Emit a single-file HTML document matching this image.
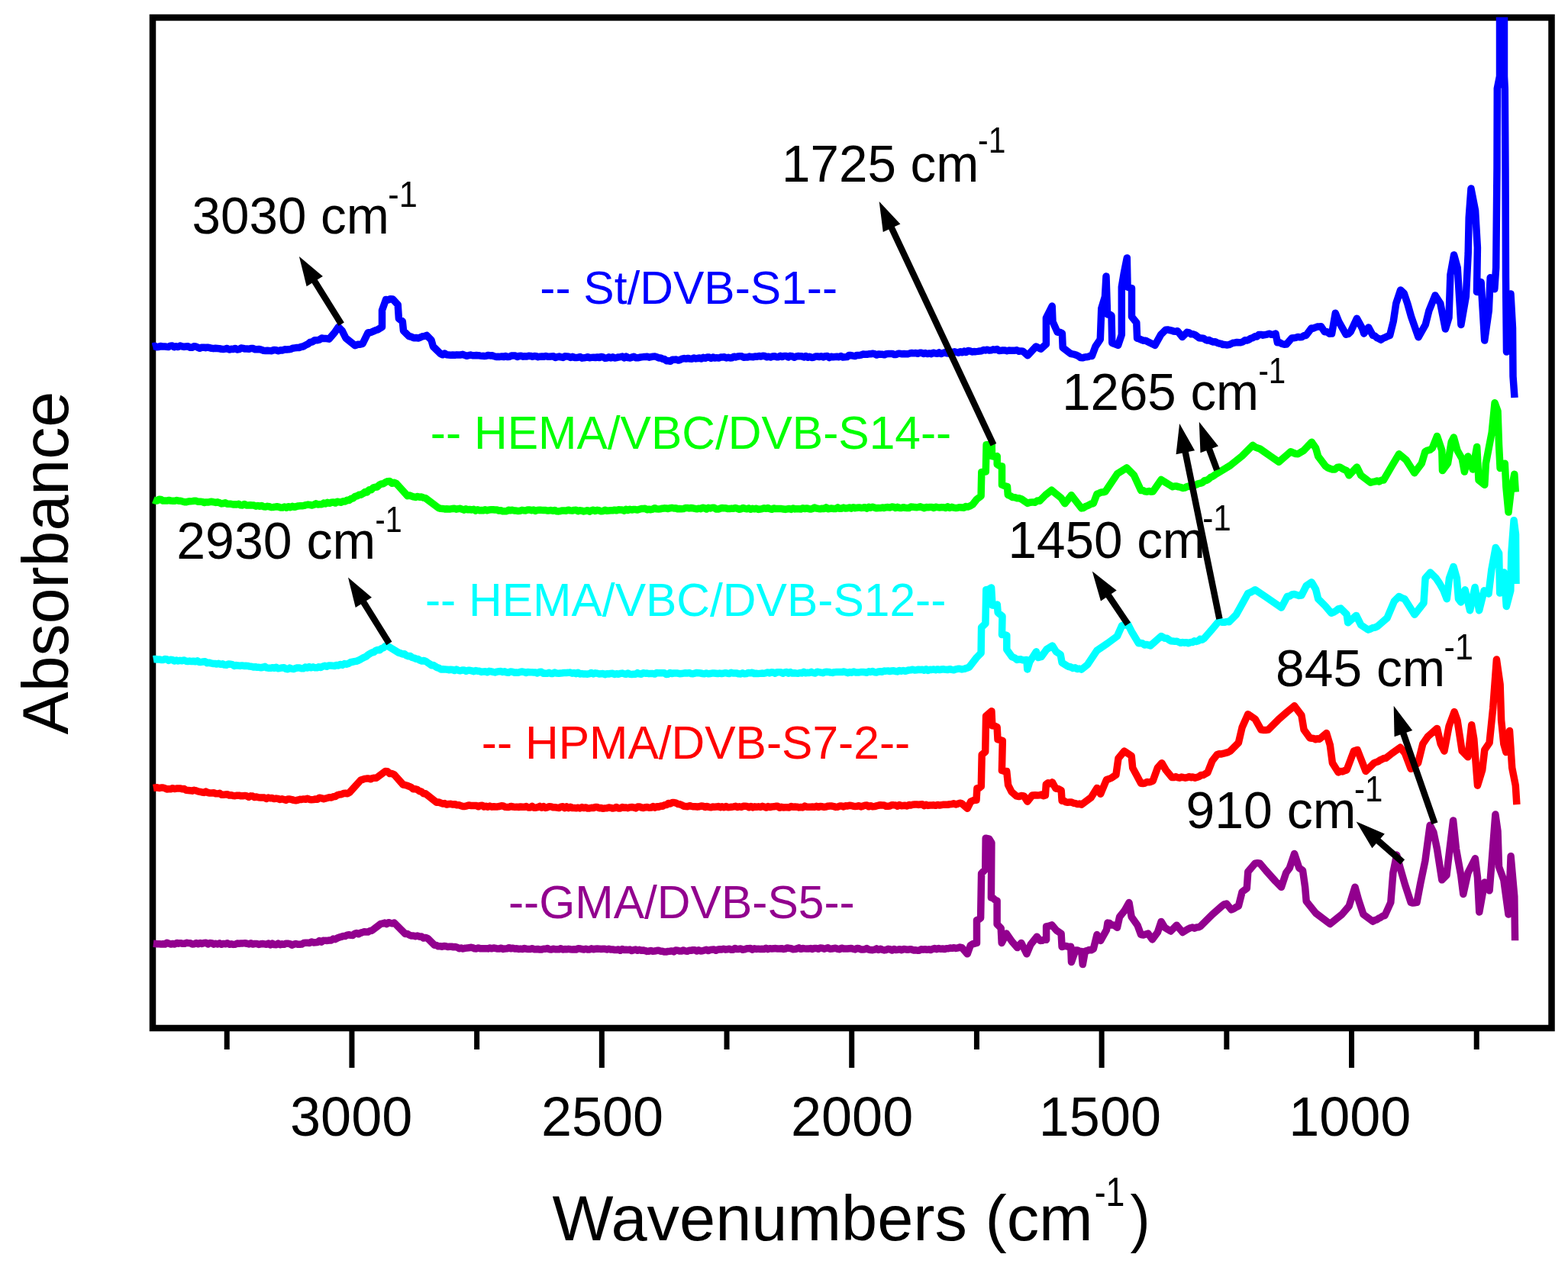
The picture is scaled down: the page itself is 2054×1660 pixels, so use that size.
<!DOCTYPE html>
<html><head><meta charset="utf-8"><title>FTIR spectra</title>
<style>html,body{margin:0;padding:0;background:#fff;}svg{display:block;}</style>
</head><body>
<svg width="2054" height="1660" viewBox="0 0 2054 1660">
<defs><clipPath id="pc"><rect x="199" y="22.5" width="1840" height="1330"/></clipPath></defs>
<rect width="100%" height="100%" fill="#fff"/>
<rect x="200" y="23" width="1832.5" height="1324" fill="none" stroke="#000" stroke-width="8.5"/>
<path d="M1934.23 1347V1375 M1770.53 1347V1399 M1606.83 1347V1375 M1443.13 1347V1399 M1279.43 1347V1375 M1115.73 1347V1399 M952.03 1347V1375 M788.33 1347V1399 M624.63 1347V1375 M460.93 1347V1399 M297.23 1347V1375" stroke="#000" stroke-width="7" fill="none"/>
<g clip-path="url(#pc)" fill="none" stroke-width="9.5" stroke-linejoin="round" stroke-linecap="butt">
<path d="M199.9 454 202.48 453.27 205.05 454.69 207.63 454.53 210.21 453.51 212.78 453.99 215.36 453.9 217.94 454.3 220.51 454.58 223.09 453.19 225.66 453.06 228.24 454.67 230.82 453.87 233.39 454.52 235.97 453 238.55 453.89 241.12 454.44 243.7 454 246.26 453.65 248.83 455.27 251.39 455.37 253.95 453.82 256.52 454 259.08 455.22 261.64 456.2 264.21 455.28 266.77 455.14 269.33 455.74 271.89 455.14 274.46 455.72 277.02 456.34 279.58 456.64 282.15 456.31 284.71 456.49 287.27 456.66 289.84 457.33 292.4 457.6 295.01 457.09 297.61 456.47 300.22 458.02 302.83 457.37 305.44 457.46 308.04 456.46 310.65 457.99 313.26 457.63 315.86 456.07 318.47 456.41 321.08 457.1 323.69 456.99 326.29 457.36 328.9 456.4 331.6 456.6 334.3 457.77 337 457.81 339.7 457.43 342.4 458.35 345.1 459.3 347.8 459.58 350.5 459.26 353.2 459.6 356.05 459.66 358.9 458.44 361.75 458.74 364.6 459.73 367.45 458.85 370.3 458.9 372.97 457.76 375.64 458.02 378.31 457.84 380.98 457.29 383.65 456.2 386.32 455.84 388.99 455.49 391.66 455.54 394.33 454.53 397 454 400.05 452.26 403.1 450.93 406.15 448.48 409.2 447.9 412.25 445.76 415.3 445.86 418.35 445.19 421.4 443 424.63 443.59 427.87 443.59 431.1 444.2 438.4 435.7 443.3 428.4 448.2 433.3 453 443 465.2 452.8 468.47 451.31 471.73 451.14 475 450.3 482.2 435.7 485.25 435.76 488.3 434.44 491.35 433.08 494.4 432.1 500.5 428.4 500.5 406.5 505.5 392.5 508.5 393.05 511.5 391.63 514.5 392 521.2 399.2 522.4 417.5 527.3 421.1 528.5 433.3 535.8 440.6 538.85 441.23 541.9 442.7 544.95 442.56 548 443 550.73 442.02 553.45 440.74 556.17 440.4 558.9 439.4 565 445.5 567.4 454 577.2 463.7 579.83 464.76 582.47 462.99 585.1 464.69 587.73 464.91 590.37 465.18 593 465.03 595.63 465.31 598.27 464.87 600.9 465.1 603.53 464.97 606.17 464.37 608.8 465.4 611.36 466.22 613.93 465.7 616.49 465.04 619.05 465.73 621.62 465.76 624.18 465.59 626.74 465.64 629.31 466.11 631.87 466.36 634.43 466.41 636.99 466.18 639.56 465.4 642.12 465.89 644.68 465.86 647.25 466.75 649.81 467.39 652.37 467.34 654.94 467.42 657.5 466.9 660 467.54 662.5 466.43 665 467.61 667.5 467.28 670 466.1 672.5 465.98 675 465.98 677.5 467.47 680 466.47 682.5 466.2 685 467.23 687.5 466.68 690 467 692.5 466.18 695 466.4 697.5 467.18 700 466.5 702.5 466.75 705 467.67 707.5 467.2 710 466.97 712.5 467.32 715 466.46 717.5 467.23 720 467.34 722.5 466.91 725 466.79 727.5 468.42 730 467.68 732.5 467.12 735 467.95 737.5 468.42 740 466.87 742.5 466.9 745 467.2 747.5 468.38 750 467.31 752.5 468.44 755 468.43 757.5 468.2 760 467.59 762.5 469.15 765 468.83 767.5 468.31 770 467.76 772.5 468.66 775 468.4 777.51 468.17 780.02 468.51 782.54 467.98 785.05 468.58 787.56 467.41 790.07 467.87 792.58 469.19 795.09 468.99 797.61 467.83 800.12 468.91 802.63 467.79 805.14 469.03 807.65 468.62 810.16 467.94 812.68 467.6 815.19 467.09 817.7 468.81 820.21 467.11 822.72 468.65 825.24 468.91 827.75 468.11 830.26 467.29 832.77 468.66 835.28 468.85 837.79 468.29 840.31 467.88 842.82 467.6 845.33 467.52 847.84 467.21 850.35 468.13 852.86 467.63 855.38 467.13 857.89 466.93 860.4 467.7 862.95 468.88 865.5 468.99 868.05 470.25 870.6 470.75 873.15 472.69 875.7 472.8 878.26 473.26 880.82 471.16 883.38 471.18 885.94 471.1 888.5 472.07 891.06 471.33 893.62 470.1 896.18 469.51 898.74 470.09 901.3 469.4 903.81 470.01 906.32 470.14 908.83 468.9 911.34 469.91 913.85 469.46 916.36 468.99 918.87 469.93 921.38 468.36 923.89 469.28 926.41 467.94 928.92 468.04 931.43 469.46 933.94 468 936.45 469.03 938.96 468.65 941.47 469.07 943.98 468.06 946.49 467.94 949 467.78 951.51 468.87 954.02 468.28 956.53 468.92 959.04 468.72 961.55 467.15 964.06 467.92 966.57 466.97 969.08 466.77 971.59 466.78 974.11 468.3 976.62 468.08 979.13 468.1 981.64 467.06 984.15 467.55 986.66 467.82 989.17 466.95 991.68 467.27 994.19 466.51 996.7 467 999.26 466.18 1001.82 466.57 1004.37 467.83 1006.93 467.2 1009.49 467.94 1012.05 467.02 1014.6 466.68 1017.16 467.71 1019.72 467.81 1022.28 466.2 1024.83 467.53 1027.39 466.39 1029.95 466.46 1032.51 468.02 1035.06 466.34 1037.62 466.76 1040.18 468.27 1042.74 467.16 1045.29 466.56 1047.85 466.68 1050.41 466.85 1052.96 467.87 1055.52 466.61 1058.08 468.24 1060.64 467.19 1063.19 468.4 1065.75 468.29 1068.31 467.08 1070.87 467.01 1073.42 467.48 1075.98 466.74 1078.54 467.86 1081.1 466.66 1083.65 466.62 1086.21 468.58 1088.77 467.22 1091.33 467.84 1093.88 467.56 1096.44 467.31 1099 467.7 1101.62 466.56 1104.23 468 1106.85 467.86 1109.46 467.59 1112.08 465.62 1114.69 465.56 1117.31 466.1 1119.92 466.57 1122.54 465.43 1125.15 465.46 1127.77 465.15 1130.38 464.08 1133 464.3 1135.56 464.35 1138.12 463.84 1140.68 463.69 1143.24 463.32 1145.8 463.69 1148.36 465.06 1150.92 463.95 1153.48 464.32 1156.04 464.27 1158.6 464.83 1161.16 463.7 1163.72 463.49 1166.28 463.5 1168.84 463.44 1171.4 464.47 1173.96 464.53 1176.52 463.31 1179.08 463.34 1181.64 463.72 1184.2 463.6 1186.76 463.71 1189.31 463.69 1191.87 462.94 1194.42 462.44 1196.97 462.84 1199.53 462.44 1202.09 463.35 1204.64 462.34 1207.19 462.3 1209.75 463.37 1212.31 462.63 1214.86 463.58 1217.41 462.94 1219.97 463.63 1222.53 462.16 1225.08 462.8 1227.63 463.34 1230.19 461.85 1232.74 463.55 1235.3 462.6 1237.83 461.78 1240.35 462.83 1242.88 463.08 1245.4 462.59 1247.93 461.42 1250.46 460.84 1252.98 461.49 1255.51 462.14 1258.03 460.72 1260.56 461.76 1263.09 460.09 1265.61 461.47 1268.14 459.55 1270.66 459.95 1273.19 460.96 1275.71 460.6 1278.24 460.64 1280.77 460.35 1283.29 460 1285.82 459.72 1288.34 458.53 1290.87 458.88 1293.4 458.17 1295.92 459.12 1298.45 458.86 1300.97 457.87 1303.5 458.2 1306.11 457.47 1308.71 459.41 1311.32 459.25 1313.93 458.87 1316.54 459 1319.14 459.76 1321.75 459.11 1324.36 459.13 1326.96 459.16 1329.57 459.14 1332.18 458.82 1334.79 460.21 1337.39 459.89 1340 460.2 1346.2 465.7 1357.1 454 1360.25 455.69 1363.4 457.1 1370.4 450.9 1370.4 416.6 1378.2 401 1379 421.3 1385.2 435.3 1388.3 435.17 1391.4 436.8 1392.2 455.5 1402.3 463.3 1404.9 463.93 1407.5 464.41 1410.1 465.3 1412.7 466.48 1415.3 468.54 1417.9 468.8 1420.4 468.12 1422.9 467.64 1425.4 467.58 1427.9 466.35 1430.4 466.4 1435 454 1441.3 444.6 1442.8 404.1 1447.5 388.5 1449 362.1 1450.6 411.9 1453.3 411.71 1456 413.5 1456.8 449.3 1459.4 450.39 1462 451.37 1464.6 452.4 1469.3 438.4 1469.3 376.1 1472.4 357.4 1476.3 337.9 1477.1 376.1 1479.8 377.15 1482.5 377.6 1482.5 415 1488.8 422.8 1489.6 443.1 1492.4 443.9 1495.2 445.31 1498 446.32 1500.8 446.26 1503.6 447.7 1506.7 449.26 1509.8 450.79 1512.9 452.4 1520.7 438.4 1527 432.2 1529.58 431.9 1532.17 432.52 1534.75 433.07 1537.33 434.01 1539.92 434.29 1542.5 433.7 1548.8 441.5 1555 435.3 1557.67 435.96 1560.34 437.82 1563.01 437.74 1565.69 438.9 1568.36 440.89 1571.03 442.74 1573.7 443.1 1576.29 443.13 1578.88 445.05 1581.47 445.99 1584.07 445.56 1586.66 447.03 1589.25 448.05 1591.84 447.8 1594.43 449.17 1597.03 449.95 1599.62 450.37 1602.21 451.6 1604.8 451.6 1607.4 451.96 1610 451.65 1612.6 450.44 1615.2 449.22 1617.8 448.93 1620.4 448.44 1623 448.71 1625.6 448.65 1628.2 447.7 1630.8 445.77 1633.4 446 1636 445.03 1638.6 443.26 1641.2 442.56 1643.8 440.83 1646.4 440.93 1649 438.51 1651.6 438.4 1654.37 439.18 1657.14 438.64 1659.91 438.1 1662.69 437.19 1665.46 438.3 1668.23 438.2 1671 437.1 1673.4 448.8 1676.33 448.65 1679.25 450.5 1682.17 451.21 1685.1 451.1 1692.1 443 1694.77 442.82 1697.44 442.4 1700.11 441.39 1702.79 441.85 1705.46 441.44 1708.13 439.76 1710.8 439.5 1717.8 430.1 1720.36 430.25 1722.92 429.05 1725.48 428.05 1728.04 427.91 1730.6 427.8 1735.3 434.8 1738.4 434.82 1741.5 437.15 1744.6 437.1 1749.3 410.2 1754 421.9 1763.3 438.3 1766.25 437.47 1769.2 434.8 1777.4 417.3 1784.4 430.1 1786.7 437.1 1792.6 428.9 1798.4 439.5 1801.03 440.19 1803.65 442.6 1806.28 443.67 1808.9 445.3 1811.83 443.09 1814.75 441.99 1817.67 440.45 1820.6 439.5 1825.3 420.8 1828.8 397.4 1834.6 379.9 1839.3 384.5 1844 398.6 1848.6 414.9 1858 441.8 1867.3 425.4 1872 406.7 1880 387 1886.8 397.5 1893.4 431.1 1898 416.2 1899.9 360.1 1904.6 334 1909.2 350.8 1913.9 425.5 1920.4 388.1 1923.2 332.1 1924.2 285.4 1927 247.1 1932.6 276 1935.4 324.6 1934.5 382.5 1940.1 369.5 1944.7 446 1950.3 406.8 1952.2 363.8 1957.8 378.8 1959.7 350.8 1961 220 1961.3 116 1964.5 100 1964.5 10 1967.5 10.5 1970.5 10 1970.5 100 1971.3 116 1972 220 1972.5 364 1973.5 461 1976 420 1979 385 1981.5 430 1982 493 1984 521" stroke="#0000ff"/>
<path d="M200.8 654.9 203.36 655.92 205.91 656.01 208.47 654.34 211.03 654.51 213.58 656.12 216.14 656.03 218.69 656.01 221.25 655.39 223.81 656.1 226.36 656.21 228.92 656.27 231.48 655.53 234.03 656.18 236.59 656.22 239.14 656.99 241.7 657.64 244.26 657.66 246.81 656.96 249.37 656.87 251.93 656.62 254.48 656.27 257.04 656.36 259.59 657.35 262.15 657.16 264.71 657.39 267.26 658.53 269.82 657.9 272.38 658.08 274.93 657.54 277.49 657.23 280.04 657.94 282.6 658.4 285.11 657.86 287.61 658.79 290.12 659.95 292.62 659.49 295.13 658.69 297.63 660.3 300.14 660.29 302.65 660.35 305.15 660.88 307.66 660.78 310.16 661.02 312.67 660.34 315.17 661.78 317.68 661.92 320.19 660.51 322.69 661.88 325.2 661.99 327.7 661.67 330.21 661.99 332.71 662.09 335.22 663.15 337.73 662.49 340.23 663.33 342.74 662.56 345.24 663.81 347.75 664.03 350.25 663.34 352.76 663.74 355.27 664.63 357.77 664.42 360.28 664.13 362.78 663.79 365.29 664.18 367.79 665.11 370.3 664.9 372.86 663.99 375.41 665.22 377.97 663.7 380.53 664.74 383.08 663.28 385.64 664.33 388.19 663.58 390.75 662.93 393.31 662.71 395.86 662.73 398.42 662.36 400.98 661.56 403.53 661.11 406.09 661.47 408.64 662.07 411.2 661.2 413.76 659.85 416.31 661.1 418.87 660.66 421.43 660.78 423.98 659.1 426.54 659.96 429.09 658.34 431.65 659.28 434.21 658.27 436.76 657.93 439.32 658.99 441.88 657.2 444.43 657.79 446.99 658.2 449.54 656.74 452.1 657 454.7 655.28 457.3 655.47 459.9 653.41 462.5 652.86 465.1 650.34 467.7 649.86 470.3 648.33 472.9 648.19 475.5 646.7 478.18 644.53 480.85 644.94 483.52 641.75 486.2 641.83 488.88 639.08 491.55 638.21 494.23 637.99 496.9 635.35 499.58 634.07 502.25 633.75 504.93 631.8 507.6 630.7 510.52 630.51 513.45 633.13 516.38 632.18 519.3 633.6 533.9 649.7 536.5 649.09 539.1 650.03 541.7 650.9 544.3 651.47 546.9 650.54 549.5 651.31 552.1 651.02 554.7 652.18 557.3 652.6 574.8 665.7 577.34 666.36 579.88 666.44 582.42 666.9 584.96 666.73 587.5 667.08 590.03 666.89 592.57 666.56 595.11 666.19 597.65 667.2 600.19 666.64 602.73 666.34 605.27 667.16 607.81 668.15 610.35 666.78 612.89 667.83 615.43 667.57 617.97 667.95 620.5 667.34 623.04 669.1 625.58 667.83 628.12 668.65 630.66 668.41 633.2 668.7 635.73 667.74 638.26 668.83 640.78 668 643.31 667.84 645.84 667.81 648.37 668.07 650.9 667.95 653.43 669.03 655.95 668.79 658.48 669.75 661.01 669.65 663.54 669.78 666.07 668.27 668.59 668.7 671.12 668.32 673.65 669.01 676.18 669.08 678.71 669.44 681.23 669.27 683.76 668.37 686.29 668.71 688.82 668.92 691.35 667.89 693.88 667.96 696.4 668.71 698.93 668.13 701.46 669.36 703.99 668.4 706.52 668.13 709.04 668.3 711.57 668.41 714.1 668.38 716.63 669 719.16 668.89 721.68 668.59 724.21 669.26 726.74 668.41 729.27 669.81 731.8 669.93 734.33 669.47 736.85 668.89 739.38 669.05 741.91 669.2 744.44 668.15 746.97 668.89 749.49 669.11 752.02 668.43 754.55 668.26 757.08 669.69 759.61 668.82 762.13 669.14 764.66 669.95 767.19 669.34 769.72 668.7 772.25 670.1 774.77 668.88 777.3 668.18 779.83 669.52 782.36 668.36 784.89 668.78 787.42 669.86 789.94 669.53 792.47 668.22 795 669.2 797.5 669 800.01 668.82 802.51 668.86 805.01 668.2 807.52 668.86 810.02 667.73 812.52 668.05 815.02 668.12 817.53 669.14 820.03 667.32 822.53 668.58 825.04 667.35 827.54 668 830.04 667.54 832.55 667.58 835.05 668.06 837.55 667.24 840.05 666.59 842.56 666.49 845.06 666.3 847.56 667.74 850.07 667.22 852.57 667.75 855.07 667.11 857.58 665.67 860.08 666.84 862.58 666.97 865.08 666.76 867.59 666.21 870.09 665.82 872.59 665.92 875.1 666.5 877.6 665.8 880.12 665.35 882.64 665.88 885.16 665.8 887.68 666.76 890.19 666.48 892.71 666.75 895.23 666.57 897.75 665.5 900.27 665.39 902.79 665.92 905.31 665.47 907.83 665.82 910.35 666.34 912.87 666.83 915.38 666.18 917.9 666.66 920.42 665.23 922.94 665.76 925.46 667.06 927.98 665.37 930.5 665.92 933.02 665.24 935.54 665.29 938.06 666.92 940.57 667.12 943.09 666.45 945.61 665.43 948.13 665.78 950.65 665.66 953.17 666.56 955.69 666.59 958.21 666.12 960.73 666.3 963.24 665.49 965.76 666.36 968.28 667.2 970.8 666.82 973.32 665.52 975.84 666.37 978.36 666.78 980.88 665.88 983.4 667.17 985.92 666.31 988.43 666.81 990.95 666.23 993.47 667.42 995.99 667.01 998.51 666.61 1001.03 665.77 1003.55 666.37 1006.07 665.56 1008.59 666.71 1011.11 667.29 1013.62 665.91 1016.14 666.58 1018.66 666.54 1021.18 666.4 1023.7 666.6 1026.24 666.99 1028.78 667.41 1031.32 666.92 1033.87 666.42 1036.41 667.37 1038.95 666.08 1041.49 666.88 1044.03 666.67 1046.57 666.85 1049.11 667 1051.65 665.72 1054.2 666.48 1056.74 666.01 1059.28 666.51 1061.82 667.1 1064.36 666.38 1066.9 665.11 1069.44 665.98 1071.98 666.44 1074.53 666.76 1077.07 666.26 1079.61 666.56 1082.15 664.93 1084.69 666.76 1087.23 666.3 1089.77 666.02 1092.32 666.59 1094.86 666.52 1097.4 664.92 1099.94 666.32 1102.48 666.19 1105.02 665.03 1107.56 666.08 1110.1 665.74 1112.65 664.92 1115.19 666.11 1117.73 664.75 1120.27 665.67 1122.81 665.28 1125.35 664.89 1127.89 665.48 1130.43 665.26 1132.98 664.7 1135.52 666.19 1138.06 664.38 1140.6 665.2 1143.1 664.19 1145.61 665.14 1148.11 665.82 1150.61 665.45 1153.11 665.62 1155.62 665.07 1158.12 665.43 1160.62 664.73 1163.13 664.58 1165.63 665.03 1168.13 664.07 1170.63 664.15 1173.14 665.49 1175.64 664.31 1178.14 665.44 1180.65 665.49 1183.15 664.72 1185.65 665.24 1188.15 665.45 1190.66 665.59 1193.16 664.11 1195.66 664.15 1198.17 664.57 1200.67 664.72 1203.17 664.36 1205.67 663.78 1208.18 664.85 1210.68 665.65 1213.18 664.44 1215.69 664.76 1218.19 664.43 1220.69 664.54 1223.19 665.38 1225.7 664.23 1228.2 664.6 1230.85 664.92 1233.5 664.62 1236.15 664.75 1238.8 665.53 1241.45 663.88 1244.1 665.4 1246.75 664.38 1249.4 665.09 1252.05 665.42 1254.7 665.16 1257.35 664.66 1260 664.9 1262.6 665.31 1265.2 663.55 1267.8 664.1 1270.95 662.82 1274.1 661 1279.6 654 1285.1 650 1285.8 618.7 1288.55 618.08 1291.3 617.9 1292.1 582.7 1295.65 582.36 1299.2 581.9 1299.5 597.6 1302.85 598.3 1306.2 597.6 1306.2 608.5 1309.35 610.3 1312.5 610.9 1312.5 635.2 1316 636.61 1319.5 637.5 1320.3 648.5 1323.45 649.67 1326.6 651.6 1329.52 651.67 1332.45 652.72 1335.38 652.86 1338.3 654 1346.1 659.4 1349.25 658.2 1352.4 657.9 1355.53 658.28 1358.67 656.06 1361.8 656.3 1369.6 648.5 1377.5 642.2 1382.2 646.1 1390 652.4 1394.9 659.7 1403.5 648.8 1416.7 665.9 1419.3 665.5 1421.9 663.59 1424.5 662.53 1427.1 661.4 1429.7 659.89 1432.3 659.7 1437 647.2 1439.72 646.34 1442.45 644.98 1445.18 644.76 1447.9 644.1 1463.5 620.8 1475.9 613 1485.3 622.3 1494.6 642.6 1497.2 642.43 1499.8 643.89 1502.4 644.19 1505 643.48 1507.6 644.13 1510.2 644.1 1521.1 628.5 1533.6 636.3 1536.2 637.69 1538.8 637.02 1541.4 637.1 1544 637.91 1546.6 638.35 1549.2 639.5 1551.79 639.16 1554.38 637.85 1556.97 637.11 1559.56 637.29 1562.14 635.47 1564.73 635.92 1567.32 634.87 1569.91 633.7 1572.5 633.2 1575.17 632.29 1577.84 629.77 1580.51 629.29 1583.19 627.82 1585.86 625.42 1588.53 624.24 1591.2 622.3 1611.5 609.9 1627.1 597.4 1641.1 583.4 1644.2 585.83 1647.3 586.95 1650.4 588 1666 598.9 1675.3 605.2 1684.7 597 1690.9 591.7 1694.03 593.24 1697.17 594.51 1700.3 594.8 1708 590.1 1718.2 579.2 1723.6 587 1726.7 597.9 1736.1 610.4 1739.2 612.8 1742.3 613.97 1745.4 615 1748.53 614.92 1751.67 612.52 1754.8 611.9 1757.9 613.71 1761 615.37 1764.1 616.6 1767.2 622.8 1777.4 611.9 1782.8 622.8 1795.3 632.2 1798.15 631.4 1801 630.92 1803.85 629.95 1806.7 630.98 1809.55 629.24 1812.4 629 1823.3 610.4 1832.7 594.8 1842 602.6 1852.9 619.7 1862.3 607.2 1866.9 591.7 1870.03 590.09 1873.17 589.35 1876.3 587 1882.5 571.4 1888.8 590.1 1889.5 616.6 1896.5 607.2 1901.2 579.2 1904.3 573 1909 590.1 1915.2 601 1918.4 618.1 1923 597.9 1929.3 615 1934.7 585.4 1937 629 1944.8 635.3 1946.4 607.2 1954.2 566.7 1958.1 527.8 1962 538.7 1963.5 582.3 1965.1 613.5 1971.3 607.2 1972.9 638.4 1976 671.1 1979.1 644.6 1983.8 621.3 1985.3 644.6" stroke="#00ff00"/>
<path d="M200.8 863.8 203.3 863.39 205.81 864.12 208.31 863.88 210.82 864.46 213.32 864.62 215.83 863.62 218.33 863.63 220.84 865.39 223.34 864.35 225.85 864.41 228.35 866.05 230.86 865.11 233.36 865.96 235.87 865.35 238.37 865.79 240.88 864.93 243.38 866.01 245.89 866.59 248.39 866.02 250.9 866.57 253.4 866.2 255.94 866.79 258.49 865.83 261.03 867.47 263.57 867.39 266.12 867.06 268.66 866.78 271.2 868.7 273.75 868.16 276.29 868.91 278.83 869.48 281.38 869.4 283.92 870.07 286.47 869.27 289.01 870.33 291.55 869.87 294.1 871.11 296.64 871.24 299.18 869.93 301.73 870.26 304.27 870.68 306.81 872.43 309.36 871.62 311.9 872 314.4 872.4 316.91 871.89 319.41 872.45 321.91 872.36 324.42 872.43 326.92 873.05 329.42 873.19 331.93 873.98 334.43 873.68 336.94 874.32 339.44 874.32 341.94 874.74 344.45 874.25 346.95 873.38 349.45 874.92 351.96 875.27 354.46 875.3 356.96 874.77 359.47 875.21 361.97 874.35 364.48 875.74 366.98 875.37 369.48 874.94 371.99 874.64 374.49 876.37 376.99 876.79 379.5 875.13 382 876.1 384.55 876.53 387.11 875.58 389.66 874.89 392.22 875 394.77 875.78 397.32 875.82 399.88 873.99 402.43 874.96 404.99 873.65 407.54 874.83 410.1 873.88 412.65 874.81 415.2 874.84 417.76 873.72 420.31 874.53 422.87 872.99 425.42 872.35 427.98 873.22 430.53 871.92 433.08 872.08 435.64 872.33 438.19 872.56 440.75 871.48 443.3 872 445.93 870.41 448.56 871.4 451.19 869.62 453.82 870.24 456.45 869.44 459.08 867.74 461.71 867.23 464.34 866.68 466.97 866.26 469.6 865.3 472.1 864.03 474.6 862.5 477.1 861.17 479.6 860.35 482.1 858.03 484.6 856.42 487.1 855.1 489.66 854.44 492.23 852.38 494.79 851.4 497.35 851.66 499.91 849.64 502.48 848.6 505.04 846.42 507.6 846.3 522.2 855.1 524.73 855.8 527.27 857.01 529.8 856.76 532.33 858.82 534.87 859.73 537.4 859.46 539.93 861.47 542.47 862.02 545 863.32 547.53 863.54 550.07 865.12 552.6 866.06 555.13 865.5 557.67 866.45 560.2 868.2 562.7 869.81 565.2 871.64 567.7 871.47 570.2 873.14 572.7 874.67 575.2 875.38 577.7 877 580.22 876.86 582.75 876.89 585.27 877.13 587.79 877.72 590.31 877.26 592.84 877.55 595.36 878.47 597.88 877.11 600.4 878.32 602.93 878.79 605.45 878.07 607.97 878.03 610.5 879.32 613.02 878.32 615.54 878.35 618.06 878.98 620.59 879.64 623.11 878.58 625.63 879.15 628.15 879.3 630.68 880.44 633.2 879.9 635.73 879.82 638.26 880.7 640.78 879.37 643.31 879.75 645.84 880.43 648.37 880.94 650.9 880.12 653.43 879.71 655.95 879.55 658.48 880.41 661.01 879.78 663.54 881.06 666.07 881.17 668.59 879.9 671.12 880.14 673.65 881.24 676.18 880.95 678.71 881.33 681.23 880.45 683.76 880.07 686.29 880.44 688.82 881.48 691.35 880.48 693.88 880.68 696.4 880.87 698.93 880.92 701.46 880.94 703.99 882.01 706.52 880.53 709.04 880.27 711.57 882.19 714.1 882.11 716.63 882.37 719.16 881.31 721.68 882.39 724.21 882.39 726.74 881.02 729.27 882.11 731.8 882.34 734.33 882.04 736.85 881.8 739.38 881.38 741.91 881.53 744.44 881.35 746.97 881.08 749.49 882.16 752.02 881.6 754.55 882.7 757.08 881.21 759.61 882.97 762.13 882.6 764.66 883.1 767.19 883.09 769.72 883.15 772.25 882.55 774.77 881.46 777.3 882.97 779.83 881.87 782.36 882.17 784.89 882.94 787.42 882.71 789.94 882.54 792.47 883.63 795 882.8 797.5 883.01 800.01 882.46 802.51 882.27 805.02 883.48 807.52 882.7 810.03 883.3 812.53 882.43 815.04 882.11 817.54 882.78 820.04 883.33 822.55 882.03 825.05 883.26 827.56 883.51 830.06 883.27 832.57 883.29 835.07 881.65 837.58 882.88 840.08 883.34 842.58 881.7 845.09 882.14 847.59 882.12 850.1 882.63 852.6 882.41 855.11 882.5 857.61 883.1 860.11 881.54 862.62 881.63 865.12 881.77 867.63 881.75 870.13 881.63 872.64 883.43 875.14 883.18 877.65 881.63 880.15 882.45 882.65 882.07 885.16 882.06 887.66 882.12 890.17 882.7 892.67 882.57 895.18 882.11 897.68 881.76 900.19 882.03 902.69 881.6 905.19 882.46 907.7 882.77 910.2 882.09 912.71 881.48 915.21 881.66 917.72 882.04 920.22 882.49 922.72 882.84 925.23 882.03 927.73 882.86 930.24 882.49 932.74 882.1 935.25 881.97 937.75 882.21 940.26 882.61 942.76 882.03 945.26 882.57 947.77 882.09 950.27 881.65 952.78 882.22 955.28 882.53 957.79 881.27 960.29 881.97 962.8 881.96 965.3 882.1 967.8 882.84 970.31 882.92 972.81 881.78 975.32 882.8 977.82 882.56 980.33 881.48 982.83 881.86 985.33 881.15 987.84 882.51 990.34 882.18 992.85 882.61 995.35 882.39 997.86 882.12 1000.36 882.23 1002.86 881.86 1005.37 880.92 1007.87 881.86 1010.38 880.67 1012.88 880.93 1015.39 882.16 1017.89 880.68 1020.39 880.75 1022.9 880.74 1025.4 882.28 1027.91 880.85 1030.41 880.52 1032.92 882.13 1035.42 880.66 1037.92 882.08 1040.43 881.72 1042.93 882.02 1045.44 882.23 1047.94 881.46 1050.45 881.87 1052.95 880.32 1055.45 881.76 1057.96 881.22 1060.46 881.61 1062.97 880.37 1065.47 881.63 1067.98 881.97 1070.48 880.2 1072.98 880.7 1075.49 881.16 1077.99 881.66 1080.5 880.47 1083 880.32 1085.51 880.43 1088.01 881.14 1090.51 881.39 1093.02 880.65 1095.52 880.57 1098.03 880.61 1100.53 880.49 1103.04 880.6 1105.54 879.91 1108.04 880.72 1110.55 881.64 1113.05 880.49 1115.56 881.14 1118.06 879.94 1120.57 880.98 1123.07 881.08 1125.57 880.89 1128.08 880.56 1130.58 880.46 1133.09 880.76 1135.59 881.24 1138.1 879.72 1140.6 880.4 1143.1 879.49 1145.61 880.7 1148.11 880.93 1150.61 880.03 1153.11 879.79 1155.62 880.24 1158.12 879.07 1160.62 879.13 1163.13 878.9 1165.63 879.57 1168.13 878.93 1170.63 878.66 1173.14 879.48 1175.64 879.91 1178.14 878.49 1180.65 879.21 1183.15 878.53 1185.65 879.31 1188.15 878.67 1190.66 877.93 1193.16 877.74 1195.66 877.25 1198.17 878.06 1200.67 877.77 1203.17 877.24 1205.67 877.52 1208.18 877.34 1210.68 878.15 1213.18 876.79 1215.69 878.38 1218.19 877.26 1220.69 877.4 1223.19 877.04 1225.7 877.67 1228.2 876.9 1230.85 877.54 1233.5 877.01 1236.15 876.86 1238.8 877.34 1241.45 877.61 1244.1 876.7 1246.75 877.37 1249.4 877.82 1252.05 876.83 1254.7 876.36 1257.35 876.37 1260 876.9 1263.2 876.37 1266.4 875.32 1269.6 874 1279.3 861.5 1285.1 855.7 1285.6 822 1290.9 817.1 1291.8 772.8 1295.2 772.27 1298.6 769.9 1300 793 1303.15 793.26 1306.3 792.1 1307.2 802.7 1313 807.5 1312.5 831.6 1315.65 831.58 1318.8 832.6 1318.8 850.9 1325.6 860.5 1328.95 861.83 1332.3 864.4 1334.82 863.92 1337.34 863.77 1339.86 864.81 1342.38 865.12 1344.9 864.4 1345.8 876.9 1348.7 867.3 1357.4 853.8 1360.3 861.5 1364.1 860.5 1370.9 850.9 1378.6 846.1 1383.4 853.8 1389.2 857.6 1391.1 868.2 1398.8 873.1 1402.7 874 1405.5 875.42 1408.3 874.75 1411.1 876.59 1413.9 876.11 1416.7 877.1 1424.5 870.9 1437 852.2 1451 842.8 1463.5 833.5 1469.7 819.5 1472.3 818.81 1474.9 818.89 1477.5 817.9 1482.2 827.2 1491.5 842.8 1494.1 842.49 1496.7 843.02 1499.3 845.02 1501.9 844.45 1504.5 845.1 1507.1 845.9 1521.1 833.5 1523.6 834.9 1526.1 836.33 1528.6 836.23 1531.1 838.13 1533.6 839.7 1536.19 839.92 1538.78 840.36 1541.37 840.15 1543.96 841.25 1546.54 842.33 1549.13 841.55 1551.72 842.2 1554.31 841.69 1556.9 842.8 1559.44 841.57 1561.98 841.58 1564.51 839.7 1567.05 840.47 1569.59 839.74 1572.12 837.34 1574.66 838.26 1577.2 836.6 1588.1 824.1 1595.9 814.8 1598.7 814.55 1601.5 815.34 1604.3 815.31 1607.1 814.39 1609.9 814.8 1619.3 805.4 1627.1 791.4 1634.8 777.4 1637.93 776.19 1641.07 774.57 1644.2 772.7 1658.2 782.1 1678.5 796.1 1686.2 781.5 1689.33 781.08 1692.47 778.96 1695.6 778.4 1698.7 779.44 1701.8 780.39 1704.9 780 1711.2 767.5 1718.2 762.8 1723.6 772.2 1726.7 784.6 1736.1 794 1743.9 803.3 1747 802.1 1750.1 800.27 1753.2 797.88 1756.3 797.1 1764.1 804.9 1765.7 815.8 1776.6 806.4 1782.8 818.9 1792.2 825.1 1795.3 823.94 1798.4 822.5 1801.5 822.09 1804.6 820.5 1817.1 809.6 1826.4 787.7 1832.7 781.5 1836.35 783.46 1840 784.7 1853 805.3 1865 790 1867.1 757.6 1873.6 750 1881.2 757.6 1885.5 764 1891 773.8 1895.3 784.7 1898.5 757.6 1904 742.4 1908.3 757.6 1910.5 784.7 1913.7 789 1919.1 772.7 1925.6 799.8 1932.1 769.5 1937.6 799.8 1944.1 773.8 1950 778 1953.8 746.7 1959.2 717.5 1963.6 725 1964.7 777.1 1970.1 750 1973.3 794.4 1978.8 773.8 1979.8 725 1983.1 681.7 1985.5 700 1986 765" stroke="#00ffff"/>
<path d="M200.8 1032.4 203.33 1031.97 205.87 1031.79 208.4 1032.47 210.93 1032.08 213.47 1032 216 1032.76 218.53 1033.89 221.07 1033.75 223.6 1033.77 226.13 1032.78 228.67 1033.5 231.2 1033.07 233.73 1032.96 236.27 1032.92 238.8 1033.8 241.38 1033.58 243.95 1035.35 246.53 1035.5 249.11 1035.8 251.68 1036.14 254.26 1035.27 256.84 1035.85 259.41 1036.83 261.99 1037.39 264.56 1037.98 267.14 1038.38 269.72 1037.14 272.29 1038.52 274.87 1039 277.45 1039.02 280.02 1038.71 282.6 1039.7 285.14 1039.87 287.69 1039.33 290.23 1041.25 292.77 1041.34 295.32 1040.93 297.86 1040.66 300.4 1042.1 302.95 1041.65 305.49 1042.5 308.03 1042.66 310.58 1042.2 313.12 1042.24 315.67 1042.84 318.21 1042.73 320.75 1042.41 323.3 1042.93 325.84 1044.17 328.38 1042.86 330.93 1043.09 333.47 1044.47 336.01 1044.01 338.56 1044.74 341.1 1044.9 343.68 1045.05 346.25 1045 348.83 1046.51 351.41 1045.11 353.98 1045.76 356.56 1045.54 359.14 1046.61 361.71 1046.1 364.29 1046.46 366.86 1047.45 369.44 1046.81 372.02 1047.49 374.59 1048.39 377.17 1046.98 379.75 1047.11 382.32 1047.65 384.9 1048.4 387.48 1048.76 390.05 1048.29 392.63 1047.36 395.21 1047.38 397.78 1046.9 400.36 1047.29 402.94 1046.29 405.51 1047.43 408.09 1047.66 410.66 1047.6 413.24 1046.99 415.82 1047.27 418.39 1045.22 420.97 1045.59 423.55 1046.77 426.12 1046.22 428.7 1045.5 431.35 1044.66 434.01 1045.06 436.66 1043.75 439.32 1043.48 441.97 1041.77 444.63 1040.9 447.28 1040.74 449.94 1039.46 452.59 1039.29 455.25 1039.79 457.9 1038.2 472.5 1022.1 475.06 1021.4 477.62 1020.39 480.19 1020.1 482.75 1019.99 485.31 1020.85 487.88 1019.65 490.44 1019.14 493 1019.2 504.7 1010.5 507.62 1010.77 510.55 1013.61 513.48 1013.57 516.4 1014.8 528 1028 530.66 1028.48 533.33 1029.25 535.99 1030.3 538.65 1031.59 541.32 1033.67 543.98 1033.68 546.65 1034.53 549.31 1036.49 551.97 1037.07 554.64 1039.63 557.3 1039.7 571.9 1051.3 574.57 1050.91 577.25 1052.09 579.92 1052.95 582.6 1052.59 585.27 1054.11 587.95 1053.46 590.62 1053.35 593.3 1054.05 595.98 1053.67 598.65 1054.81 601.33 1054.83 604 1055.7 606.51 1056.52 609.03 1056.44 611.54 1055.82 614.05 1054.92 616.57 1055.41 619.08 1055.42 621.59 1055.39 624.11 1055.48 626.62 1056.79 629.13 1055.38 631.64 1055.24 634.16 1057.03 636.67 1056.34 639.18 1057.23 641.7 1056.1 644.21 1057.13 646.72 1056.68 649.24 1056.99 651.75 1056.94 654.26 1056.48 656.78 1055.71 659.29 1055.99 661.8 1057.36 664.32 1057.45 666.83 1057.54 669.34 1056.4 671.86 1057.08 674.37 1057.4 676.88 1057.13 679.39 1057.51 681.91 1056.98 684.42 1057.27 686.93 1057.37 689.45 1056.58 691.96 1057.93 694.47 1058.03 696.99 1056.31 699.5 1058.14 702.01 1058.16 704.53 1057.62 707.04 1056.41 709.55 1058.16 712.07 1056.65 714.58 1058.37 717.09 1057.81 719.61 1056.64 722.12 1056.89 724.63 1057.87 727.14 1057.77 729.66 1058.17 732.17 1058.57 734.68 1057.19 737.2 1056.8 739.71 1058.68 742.22 1056.9 744.74 1058.66 747.25 1057.18 749.76 1058.61 752.28 1058.59 754.79 1058.82 757.3 1058.21 759.82 1058.9 762.33 1057.59 764.84 1058.57 767.36 1057.93 769.87 1059.09 772.38 1058.89 774.89 1058.33 777.41 1058.48 779.92 1057.52 782.43 1057.57 784.95 1058.73 787.46 1058.56 789.97 1059.35 792.49 1058.88 795 1058.7 797.52 1057.93 800.04 1058.32 802.56 1059.08 805.07 1058.54 807.59 1057.46 810.11 1059.06 812.63 1058.99 815.15 1057.46 817.67 1058.32 820.19 1057.94 822.7 1058.7 825.22 1057.7 827.74 1057.49 830.26 1057.95 832.78 1058.85 835.3 1057.06 837.81 1057.05 840.33 1058.01 842.85 1058.49 845.37 1057.69 847.89 1057.48 850.41 1058.27 852.93 1058.06 855.44 1056.59 857.96 1058.17 860.48 1056.74 863 1057.3 865.51 1056.08 868.03 1056.32 870.54 1054.66 873.06 1054.58 875.57 1052.49 878.09 1053.08 880.6 1051.5 883.15 1051.5 885.7 1052.1 888.25 1053.44 890.8 1053.78 893.35 1054.83 895.9 1056.21 898.45 1056.47 901 1056.7 903.5 1055.72 906.01 1056.35 908.51 1056.83 911.02 1056.72 913.52 1057.19 916.02 1056.74 918.53 1055.94 921.03 1056.29 923.54 1057.51 926.04 1056.54 928.54 1057.37 931.05 1057.82 933.55 1057.11 936.06 1057.22 938.56 1057.1 941.07 1056.52 943.57 1057.73 946.07 1056.85 948.58 1057.76 951.08 1056.56 953.59 1057.69 956.09 1057.54 958.59 1057.21 961.1 1056.88 963.6 1056.29 966.11 1057.56 968.61 1056.75 971.11 1057.37 973.62 1056.32 976.12 1056.23 978.63 1056.37 981.13 1057.71 983.63 1056.46 986.14 1057.92 988.64 1056.87 991.15 1057.29 993.65 1056.85 996.16 1057.41 998.66 1056.36 1001.16 1056.99 1003.67 1058.07 1006.17 1056.57 1008.68 1057.54 1011.18 1056.89 1013.68 1056.85 1016.19 1056.31 1018.69 1056.32 1021.2 1058.19 1023.7 1057.3 1026.24 1057.93 1028.78 1057.84 1031.32 1057.82 1033.87 1058.08 1036.41 1056.45 1038.95 1057.27 1041.49 1057.06 1044.03 1057.19 1046.57 1057.88 1049.11 1057.49 1051.65 1057.88 1054.2 1056.14 1056.74 1057.18 1059.28 1057.19 1061.82 1057.3 1064.36 1057.01 1066.9 1057.41 1069.44 1056.32 1071.98 1057.54 1074.53 1056.46 1077.07 1056.81 1079.61 1057.38 1082.15 1056.96 1084.69 1056.14 1087.23 1055.95 1089.77 1056.11 1092.32 1056.67 1094.86 1057.38 1097.4 1057.15 1099.94 1056.12 1102.48 1056.09 1105.02 1056.89 1107.56 1055.79 1110.1 1056.01 1112.65 1055.19 1115.19 1055.49 1117.73 1056.17 1120.27 1056.45 1122.81 1056.26 1125.35 1055.72 1127.89 1056.87 1130.43 1056.18 1132.98 1055.21 1135.52 1055 1138.06 1056.78 1140.6 1055.8 1143.1 1056.74 1145.61 1056.56 1148.11 1055.89 1150.61 1055.26 1153.11 1054.78 1155.62 1055.08 1158.12 1054.96 1160.62 1056.34 1163.13 1056.23 1165.63 1055.96 1168.13 1054.66 1170.63 1054.8 1173.14 1054.88 1175.64 1056.14 1178.14 1054.53 1180.65 1055.74 1183.15 1055.48 1185.65 1055.17 1188.15 1055.96 1190.66 1054.52 1193.16 1055.01 1195.66 1054.24 1198.17 1054.07 1200.67 1053.9 1203.17 1054.43 1205.67 1054 1208.18 1053.84 1210.68 1055.67 1213.18 1054.22 1215.69 1055.38 1218.19 1054.96 1220.69 1054.98 1223.19 1054.79 1225.7 1055.35 1228.2 1054.4 1230.85 1055.03 1233.5 1054.59 1236.15 1054.14 1238.8 1054.29 1241.45 1054.22 1244.1 1053.75 1246.75 1053.53 1249.4 1052.71 1252.05 1053.96 1254.7 1053.12 1257.35 1052.16 1260 1052.9 1267.2 1059.2 1271.7 1050.2 1275.35 1048.59 1279 1048.3 1279.9 1033 1282.6 1032.4 1285.3 1030.3 1286.2 988.7 1290.7 985.1 1291.6 938.1 1298.9 931.7 1299.8 950.7 1302.95 951.11 1306.1 952.5 1307 968.8 1310.15 969.48 1313.3 970.6 1312.4 1009.5 1315.55 1010.31 1318.7 1010.4 1320.6 1028.5 1325.1 1037.5 1331.4 1042.9 1334.7 1043.62 1338 1042.56 1341.3 1042.9 1345.9 1050.2 1352.2 1042 1355.8 1041.77 1359.4 1042 1361.9 1041.85 1364.4 1041.06 1366.9 1042.75 1369.4 1042 1370.3 1027.6 1373 1025.7 1375.7 1026.65 1378.4 1024.8 1382.9 1033 1386.55 1033.66 1390.2 1035.7 1391.1 1049.2 1393.62 1048.99 1396.15 1050.85 1398.67 1051.27 1401.2 1051.1 1403.78 1051.08 1406.37 1052.24 1408.95 1052.6 1411.53 1053.6 1414.12 1053.05 1416.7 1054.2 1429.2 1044.9 1437 1032.4 1441.7 1040.2 1449.5 1021.5 1452.6 1020.6 1455.7 1019.39 1458.8 1017.26 1461.9 1015.3 1465 993.5 1472.8 984.1 1482.2 990.4 1483.7 1005.9 1494.6 1026.2 1497.2 1026.53 1499.8 1026.04 1502.4 1024.41 1505 1024.83 1507.6 1024.28 1510.2 1023.1 1516.4 1005.9 1521.9 999.7 1527.3 1009 1535.1 1018.4 1537.62 1018.57 1540.13 1017.61 1542.65 1018.64 1545.16 1019.22 1547.68 1018.01 1550.19 1018.69 1552.71 1019.19 1555.22 1018.6 1557.74 1017.47 1560.25 1018.66 1562.77 1017.91 1565.28 1019.12 1567.8 1018.4 1570.62 1017.48 1573.44 1015.53 1576.26 1015.47 1579.08 1013.69 1581.9 1012.2 1588.1 996.6 1594.3 988.8 1597.17 987.69 1600.03 987.9 1602.9 987.23 1605.77 986.45 1608.63 985.65 1611.5 984.1 1622.4 973.2 1627.1 953 1634.8 935.8 1644.2 942.1 1652 956.1 1655.1 956.42 1658.2 956.5 1661.3 956.1 1675.3 942.1 1686.2 932.6 1695.6 924.8 1704.9 937.2 1708 955.9 1715.8 966.8 1718.3 967.33 1720.8 967.49 1723.3 968.73 1725.8 967.79 1728.3 968.4 1737.6 960.6 1742.3 976.2 1745.4 999.6 1753.2 1012 1755.92 1010.39 1758.65 1010.88 1761.38 1009.67 1764.1 1008.9 1773.5 984 1778.1 982.4 1789.1 1010.5 1800 999.6 1802.58 998.64 1805.17 997.7 1807.75 995.95 1810.33 994.8 1812.92 993.49 1815.5 993.3 1823.3 987.1 1834.2 979.3 1840.5 987.1 1848.2 1007.3 1857.6 999.6 1863.8 974.6 1870.1 965.3 1882.5 954.4 1887.2 974.6 1891.9 984 1898.1 951.3 1905.1 932.6 1909 943.5 1915.2 984 1923 991.8 1927.7 949.7 1930.8 968.4 1935.5 1029.2 1941.7 1008.9 1944.8 982.4 1951.1 973.1 1955.7 927.9 1960.4 864 1965.1 896.7 1966.6 943.5 1969.8 974.6 1972.9 985.5 1977.5 957.5 1980.7 1005.8 1985.3 1029.2 1986.9 1054.1" stroke="#ff0000"/>
<path d="M200.8 1236.2 203.36 1236.45 205.91 1236.68 208.47 1236.79 211.03 1237.08 213.58 1236.68 216.14 1237.04 218.69 1235.26 221.25 1236.13 223.81 1237.09 226.36 1236.5 228.92 1237 231.48 1235.43 234.03 1236.14 236.59 1235.69 239.14 1236.29 241.7 1236.35 244.26 1235.23 246.81 1235.63 249.37 1235.76 251.93 1237.03 254.48 1236.73 257.04 1235.52 259.59 1236.79 262.15 1235.48 264.71 1236.43 267.26 1235.45 269.82 1235.2 272.38 1236.94 274.93 1235.62 277.49 1235.63 280.04 1237.16 282.6 1236.2 285.16 1236.97 287.72 1235.83 290.27 1237.21 292.83 1236.39 295.39 1236.69 297.94 1235.77 300.5 1237.27 303.06 1236.8 305.62 1237.38 308.18 1237.26 310.73 1236.1 313.29 1236.25 315.85 1235.89 318.4 1235.88 320.96 1235.74 323.52 1236.24 326.08 1236.87 328.63 1235.7 331.19 1237.08 333.75 1236.43 336.31 1236.4 338.87 1237.44 341.42 1236.79 343.98 1236.49 346.54 1236.85 349.1 1237.32 351.65 1236.06 354.21 1237.92 356.77 1236.04 359.32 1237.52 361.88 1237.74 364.44 1236.12 367 1237.68 369.55 1236.87 372.11 1237.32 374.67 1236.21 377.23 1236.31 379.78 1236.61 382.34 1238.18 384.9 1237.3 387.48 1236.4 390.05 1237.24 392.63 1237.29 395.21 1237.03 397.78 1235.55 400.36 1235.28 402.94 1235.33 405.51 1235.55 408.09 1233.92 410.66 1234.91 413.24 1234.72 415.82 1234.56 418.39 1232.63 420.97 1234.16 423.55 1232.16 426.12 1232.37 428.7 1232.4 431.3 1231.97 433.9 1231.93 436.5 1230.11 439.1 1230.63 441.7 1229.21 444.3 1228.09 446.9 1227.44 449.5 1226.51 452.1 1226.5 454.6 1225.13 457.1 1224.75 459.6 1225.31 462.1 1225.41 464.6 1223.22 467.1 1222.47 469.6 1223.82 472.1 1222.4 474.6 1221.62 477.1 1220.76 479.6 1220.95 482.1 1220.9 484.6 1219.63 487.1 1219.2 498.8 1210.4 501.31 1210.04 503.83 1209.11 506.34 1210.63 508.86 1208.67 511.37 1209.39 513.89 1209.88 516.4 1209 531 1223.6 533.65 1223.39 536.31 1225.12 538.96 1226.08 541.62 1225.97 544.27 1226.81 546.93 1225.98 549.58 1227.16 552.24 1227.12 554.89 1229.03 557.55 1228.46 560.2 1229.4 569 1238.2 571.5 1238.38 574 1239.74 576.5 1239.72 579 1240.24 581.5 1239.46 584 1239.8 586.5 1240.56 589 1240.33 591.5 1240.22 594 1240.72 596.5 1240.48 599 1241.21 601.5 1242.71 604 1242 606.51 1242.95 609.03 1242.31 611.54 1242.08 614.05 1241.78 616.57 1241.31 619.08 1241.7 621.59 1242.75 624.11 1242.95 626.62 1241.96 629.13 1242.84 631.64 1242.84 634.16 1242.7 636.67 1242.67 639.18 1242.89 641.7 1242.12 644.21 1242.83 646.72 1242.01 649.24 1242.45 651.75 1243.04 654.26 1242.91 656.78 1242.14 659.29 1243.47 661.8 1242.9 664.32 1242.79 666.83 1241.68 669.34 1242.78 671.86 1242.21 674.37 1243.08 676.88 1242.69 679.39 1243.42 681.91 1243.11 684.42 1243.44 686.93 1242.56 689.45 1243.18 691.96 1243.4 694.47 1243.6 696.99 1242.67 699.5 1243.69 702.01 1243.77 704.53 1243.43 707.04 1244.03 709.55 1244.02 712.07 1243.17 714.58 1243.22 717.09 1242.52 719.61 1243.88 722.12 1244.11 724.63 1243.22 727.14 1243.67 729.66 1243.76 732.17 1243.8 734.68 1242.71 737.2 1243.96 739.71 1243.58 742.22 1243.78 744.74 1243.32 747.25 1243.75 749.76 1244.08 752.28 1243.83 754.79 1244.02 757.3 1242.66 759.82 1242.95 762.33 1243.54 764.84 1243.98 767.36 1243.15 769.87 1244.11 772.38 1244.02 774.89 1242.87 777.41 1243.76 779.92 1243.29 782.43 1242.98 784.95 1243.16 787.46 1243.56 789.97 1243.31 792.49 1243.36 795 1244 797.5 1243.14 800.01 1244.07 802.51 1243.97 805.01 1244.5 807.52 1244.53 810.02 1243.89 812.52 1245.29 815.02 1243.56 817.53 1244.44 820.03 1244.25 822.53 1244.59 825.04 1244.07 827.54 1245.57 830.04 1244.72 832.55 1244.12 835.05 1245.34 837.55 1244.37 840.05 1245.34 842.56 1245 845.06 1245.56 847.56 1246.38 850.07 1246.17 852.57 1245.44 855.07 1246.3 857.58 1246.03 860.08 1245.55 862.58 1245.17 865.08 1246.14 867.59 1246.15 870.09 1247.01 872.59 1247.1 875.1 1246.45 877.6 1246.3 880.11 1245.92 882.61 1246.92 885.12 1245.05 887.62 1245.18 890.13 1246.02 892.63 1246.03 895.14 1245 897.65 1245.9 900.15 1246.34 902.66 1245.22 905.16 1245.25 907.67 1244.76 910.17 1244.81 912.68 1246.08 915.19 1244.82 917.69 1245.9 920.2 1245.72 922.7 1245 925.21 1244.25 927.71 1245.6 930.22 1244.55 932.73 1244.31 935.23 1244.03 937.74 1245.28 940.24 1244.21 942.75 1243.72 945.25 1244.02 947.76 1243.22 950.27 1244.14 952.77 1243.7 955.28 1243.32 957.78 1244.21 960.29 1244.22 962.79 1242.51 965.3 1243.4 967.84 1243.45 970.38 1242.91 972.92 1244.21 975.46 1243.89 978 1242.79 980.53 1242.82 983.07 1242.57 985.61 1244.22 988.15 1242.81 990.69 1243.42 993.23 1243.13 995.77 1243.45 998.31 1243.35 1000.85 1243.61 1003.39 1242.34 1005.93 1243.61 1008.47 1242.67 1011 1243.11 1013.54 1242.7 1016.08 1242.6 1018.62 1243.05 1021.16 1242.9 1023.7 1242.67 1026.24 1243.42 1028.78 1243.09 1031.32 1241.96 1033.86 1242.38 1036.4 1242.76 1038.93 1243.67 1041.47 1243.59 1044.01 1242.88 1046.55 1241.8 1049.09 1243.31 1051.63 1242.59 1054.17 1242.87 1056.71 1243.11 1059.25 1242.94 1061.79 1242.62 1064.33 1243.46 1066.87 1242.39 1069.4 1242.38 1071.94 1243.28 1074.48 1241.95 1077.02 1242.13 1079.56 1243.18 1082.1 1242.5 1084.64 1241.68 1087.18 1243.27 1089.72 1243.04 1092.27 1242.57 1094.81 1242.32 1097.35 1243.36 1099.89 1243.67 1102.43 1242.19 1104.97 1242.91 1107.51 1243.1 1110.05 1243.05 1112.6 1242.76 1115.14 1242.46 1117.68 1243.37 1120.22 1243.87 1122.76 1242.44 1125.3 1242.81 1127.84 1244.04 1130.38 1244.03 1132.93 1243.83 1135.47 1242.6 1138.01 1244.05 1140.55 1244.61 1143.09 1244.7 1145.63 1244.15 1148.17 1242.9 1150.72 1244.53 1153.26 1243.34 1155.8 1244.24 1158.34 1244.9 1160.88 1244.47 1163.42 1243.37 1165.96 1243.73 1168.5 1245.04 1171.05 1243.55 1173.59 1244.52 1176.13 1244.18 1178.67 1243.72 1181.21 1244.69 1183.75 1243.59 1186.29 1243.77 1188.83 1244.36 1191.38 1243.79 1193.92 1243.82 1196.46 1244.9 1199 1244.8 1201.54 1245.15 1204.08 1245.29 1206.62 1243.67 1209.17 1244.13 1211.71 1243.76 1214.25 1244.2 1216.79 1243.85 1219.33 1244.61 1221.88 1243.35 1224.42 1242.58 1226.96 1243.73 1229.5 1242.5 1232.04 1243.33 1234.58 1242.95 1237.12 1243.62 1239.67 1242.78 1242.21 1242.78 1244.75 1241.93 1247.29 1242.37 1249.83 1241.64 1252.38 1242.5 1254.92 1241.9 1257.46 1241 1260 1241.6 1267.2 1249.8 1271.3 1238.5 1274.03 1236.94 1276.77 1236.18 1279.5 1235.4 1279.5 1205.7 1282.05 1204.67 1284.6 1202.7 1285.6 1144.3 1290.7 1139.2 1291.2 1098.2 1295.8 1099.2 1298.9 1104.3 1298.4 1176 1300.97 1176.73 1303.53 1179.16 1306.1 1180.1 1306.1 1210.9 1311.2 1216 1312.2 1235.4 1318.4 1223.1 1325.5 1233.4 1332.7 1241.6 1337.8 1235.4 1345 1249.8 1350.1 1237.5 1358.3 1227.2 1362.4 1232.4 1365.13 1232.34 1367.87 1230.84 1370.6 1231.3 1370.6 1213.9 1374.2 1213.24 1377.8 1211.9 1383.9 1219 1390.1 1223.1 1391.1 1240.5 1394 1239.61 1396.9 1239.6 1399.8 1240.46 1402.7 1240.2 1403.5 1260.5 1408.9 1244.9 1411.5 1244.88 1414.1 1246.65 1416.7 1246.4 1418.3 1263.6 1421.4 1246.4 1424.12 1245.59 1426.85 1244.5 1429.58 1244.67 1432.3 1243.3 1437 1224.6 1441.7 1232.4 1449.5 1218.4 1451 1209.1 1453.5 1209.4 1456 1212.03 1458.5 1211.93 1461 1213.36 1463.5 1215.3 1466.6 1201.3 1472.8 1193.5 1479 1182.6 1482.2 1201.3 1490 1212.2 1494.6 1224.6 1497.73 1225 1500.87 1223.96 1504 1223.1 1509.4 1230.9 1516.4 1221.5 1521.1 1207.5 1525.8 1215.3 1533.6 1220 1541.4 1212.2 1549.2 1221.5 1556.9 1216.8 1559.5 1215.73 1562.1 1215 1564.7 1216.2 1567.3 1215.06 1569.9 1214.86 1572.5 1213.7 1588.1 1198.1 1600.6 1187.2 1603.7 1184.93 1606.8 1184.1 1613 1191.9 1616.13 1190.58 1619.27 1188.48 1622.4 1187.2 1627.1 1168.5 1633.3 1163.9 1634.8 1142.1 1644.2 1131.2 1647.3 1130.67 1650.4 1131.2 1658.2 1140.5 1670.7 1154.5 1678.5 1162.3 1684.7 1143.5 1689.3 1137.2 1695.6 1118.5 1701.8 1137.2 1706.5 1140.4 1709.6 1162.2 1711.2 1180.9 1723.6 1196.4 1742.3 1210.5 1757.9 1198 1767.2 1187.1 1775 1162.2 1779.7 1179.3 1785.9 1198 1798.4 1207.3 1801 1205.68 1803.6 1204.96 1806.2 1203.15 1808.8 1201.94 1811.4 1200.16 1814 1199.6 1821.8 1182.4 1824.9 1143.5 1829.6 1120.1 1834.2 1137.2 1840.5 1159 1848.2 1182.4 1850.8 1183.06 1853.4 1182.7 1856 1182.4 1860.7 1157.5 1866.9 1127.9 1873.2 1081.2 1877.9 1090.5 1882.5 1112.3 1888.8 1152.8 1895 1146.6 1898.1 1120.1 1903.6 1074.9 1907.5 1112.3 1913.7 1146.6 1916.8 1171.5 1923 1143.5 1932.4 1124.8 1935.5 1149.7 1937.8 1194.9 1944.8 1155.9 1951.1 1166.8 1954.2 1127.9 1958.9 1067.1 1962 1088.9 1963.5 1135.7 1969.8 1152.8 1976 1198 1979.1 1121.7 1983.8 1174.6 1984.6 1232.3" stroke="#92008e"/>
</g>
<path d="M411.19 366.88L447.2 424.7" stroke="#000" stroke-width="8.5"/>
<path d="M391.9 335.9L401.64 375.19L422.86 361.97Z" fill="#000"/>
<path d="M1167.21 296.94L1301.4 582.7" stroke="#000" stroke-width="8.5"/>
<path d="M1151.7 263.9L1156.75 304.06L1179.38 293.44Z" fill="#000"/>
<path d="M1552.41 590.76L1597.4 810.9" stroke="#000" stroke-width="8.5"/>
<path d="M1545.1 555L1540.56 595.22L1565.06 590.22Z" fill="#000"/>
<path d="M1583.49 586.92L1594.2 615.8" stroke="#000" stroke-width="8.5"/>
<path d="M1570.8 552.7L1572.47 593.14L1595.91 584.45Z" fill="#000"/>
<path d="M475.29 787.58L509.8 843" stroke="#000" stroke-width="8.5"/>
<path d="M456 756.6L465.74 795.89L486.96 782.67Z" fill="#000"/>
<path d="M1451.2 778.87L1477.5 817.9" stroke="#000" stroke-width="8.5"/>
<path d="M1430.8 748.6L1441.95 787.51L1462.68 773.54Z" fill="#000"/>
<path d="M1837.72 959.26L1879.4 1078.8" stroke="#000" stroke-width="8.5"/>
<path d="M1825.7 924.8L1826.57 965.27L1850.18 957.04Z" fill="#000"/>
<path d="M1804.09 1100.51L1837.3 1129.5" stroke="#000" stroke-width="8.5"/>
<path d="M1776.6 1076.5L1797.38 1111.24L1813.82 1092.41Z" fill="#000"/>
<g font-family="'Liberation Sans', Arial, sans-serif">
<text x="380.07" y="1488" font-size="72" fill="#000">3000</text>
<text x="708.9" y="1488" font-size="72" fill="#000">2500</text>
<text x="1036" y="1488" font-size="72" fill="#000">2000</text>
<text x="1360.8" y="1488" font-size="72" fill="#000">1500</text>
<text x="1688.2" y="1488" font-size="72" fill="#000">1000</text>
<text x="707.24" y="398.3" font-size="60.5" fill="#0000ff">-- St/DVB-S1--</text>
<text x="563.85" y="588.4" font-size="60.5" fill="#00ff00">-- HEMA/VBC/DVB-S14--</text>
<text x="556.95" y="807.4" font-size="60.5" fill="#00ffff">-- HEMA/VBC/DVB-S12--</text>
<text x="630.85" y="994.2" font-size="60.5" fill="#ff0000">-- HPMA/DVB-S7-2--</text>
<text x="665.95" y="1203.3" font-size="60.5" fill="#92008e">--GMA/DVB-S5--</text>
<text transform="translate(251.58 305.6) scale(0.9903 1)" font-size="68" fill="#000">3030 cm</text>
<text transform="translate(508.27 270.8) scale(0.9026 1)" font-size="48" fill="#000">-1</text>
<text transform="translate(1024.1 237.6) scale(0.9899 1)" font-size="68" fill="#000">1725 cm</text>
<text transform="translate(1281.09 199.8) scale(0.8500 1)" font-size="48" fill="#000">-1</text>
<text transform="translate(1391.21 537.1) scale(0.9887 1)" font-size="68" fill="#000">1265 cm</text>
<text transform="translate(1648.41 502) scale(0.8395 1)" font-size="48" fill="#000">-1</text>
<text x="231.31" y="732.4" font-size="68" fill="#000">2930 cm</text>
<text transform="translate(491.55 696.6) scale(0.8211 1)" font-size="48" fill="#000">-1</text>
<text transform="translate(1320.39 730.9) scale(0.9918 1)" font-size="68" fill="#000">1450 cm</text>
<text transform="translate(1575.22 695) scale(0.8816 1)" font-size="48" fill="#000">-1</text>
<text transform="translate(1671.11 898.6) scale(0.9958 1)" font-size="68" fill="#000">845 cm</text>
<text transform="translate(1891.58 863.8) scale(0.8974 1)" font-size="48" fill="#000">-1</text>
<text x="1553.46" y="1084.6" font-size="68" fill="#000">910 cm</text>
<text transform="translate(1773.93 1050.3) scale(0.8763 1)" font-size="48" fill="#000">-1</text>
<text transform="translate(723.6 1625) scale(1.0094 1)" font-size="84" fill="#000">Wavenumbers (cm</text>
<text transform="translate(1433.73 1580) scale(0.8279 1)" font-size="54" fill="#000">-1</text>
<text transform="translate(1480.53 1625) scale(0.9393 1)" font-size="84" fill="#000">)</text>
<text transform="translate(88.9 962.55) rotate(-90) scale(0.9915 1)" font-size="85" fill="#000">Absorbance</text>
</g>
</svg>
</body></html>
